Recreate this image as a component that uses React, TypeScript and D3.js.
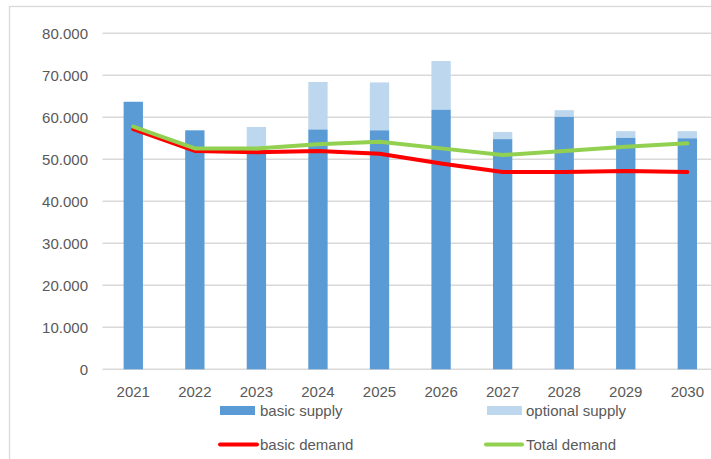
import React from "react";
import * as d3 from "d3";

const years = ["2021", "2022", "2023", "2024", "2025", "2026", "2027", "2028", "2029", "2030"];
const basicSupply = [63700, 56900, 51300, 57100, 56900, 61800, 54800, 60100, 55100, 55000];
const totalSupply = [63700, 56900, 57700, 68400, 68300, 73400, 56500, 61700, 56700, 56700];
const basicDemand = [57200, 52000, 51700, 52000, 51300, 49000, 47000, 47000, 47200, 47000];
const totalDemand = [57800, 52600, 52600, 53600, 54200, 52600, 51000, 52000, 53000, 53800];
const yTicks = [0, 10000, 20000, 30000, 40000, 50000, 60000, 70000, 80000];

const W = 711;
const H = 459;

export default function App() {
  const x = d3
    .scaleBand<string>()
    .domain(years)
    .range([102.5, 718.1])
    .paddingInner(0.686)
    .paddingOuter(0.343);
  const y = d3.scaleLinear().domain([0, 80000]).range([369.3, 33.3]);
  const loc = d3.formatLocale({ decimal: ",", thousands: ".", grouping: [3], currency: ["", ""] });
  const fmt = loc.format(",d");
  const cx = (i: number) => (x(years[i]) as number) + x.bandwidth() / 2;
  const line = d3
    .line<number>()
    .x((_, i) => cx(i))
    .y((d) => y(d));

  const text = "#595959";
  const font = "'Liberation Sans', Arial, sans-serif";

  return (
    <svg
      width={W}
      height={H}
      style={{ position: "absolute", left: 0, top: 0, background: "#fff" }}
      fontFamily={font}
    >
      <rect x={9.5} y={6.5} width={800} height={600} fill="#fff" stroke="#d9d9d9" strokeWidth={1.3} />
      {yTicks.map((t) => (
        <g key={t}>
          <line x1={102.5} x2={718} y1={y(t)} y2={y(t)} stroke="#d9d9d9" strokeWidth={1.5} />
          <text x={88} y={y(t)} dy="0.35em" textAnchor="end" fontSize={15} fill={text}>
            {fmt(t)}
          </text>
        </g>
      ))}
      {years.map((yr, i) => (
        <g key={yr}>
          <rect
            x={x(yr)}
            y={y(totalSupply[i])}
            width={x.bandwidth()}
            height={y(basicSupply[i]) - y(totalSupply[i])}
            fill="#bdd7ee"
          />
          <rect
            x={x(yr)}
            y={y(basicSupply[i])}
            width={x.bandwidth()}
            height={y(0) - y(basicSupply[i])}
            fill="#5b9bd5"
          />
          <text x={cx(i)} y={392} dy="0.35em" textAnchor="middle" fontSize={15} fill={text}>
            {yr}
          </text>
        </g>
      ))}
      <path d={line(basicDemand) || ""} fill="none" stroke="#ff0000" strokeWidth={4} strokeLinejoin="round" strokeLinecap="round" />
      <path d={line(totalDemand) || ""} fill="none" stroke="#92d050" strokeWidth={4} strokeLinejoin="round" strokeLinecap="round" />

      <rect x={220} y={406} width={35} height={9} fill="#5b9bd5" />
      <text x={260} y={410.5} dy="0.35em" fontSize={15} fill={text}>basic supply</text>
      <rect x={487} y={406} width={35} height={9} fill="#bdd7ee" />
      <text x={526} y={410.5} dy="0.35em" fontSize={15} fill={text}>optional supply</text>
      <line x1={220} x2={257} y1={444.5} y2={444.5} stroke="#ff0000" strokeWidth={4} strokeLinecap="round" />
      <text x={260} y={444.5} dy="0.35em" fontSize={15} fill={text}>basic demand</text>
      <line x1={486} x2={522} y1={444.5} y2={444.5} stroke="#92d050" strokeWidth={4} strokeLinecap="round" />
      <text x={526} y={444.5} dy="0.35em" fontSize={15} fill={text}>Total demand</text>
    </svg>
  );
}
